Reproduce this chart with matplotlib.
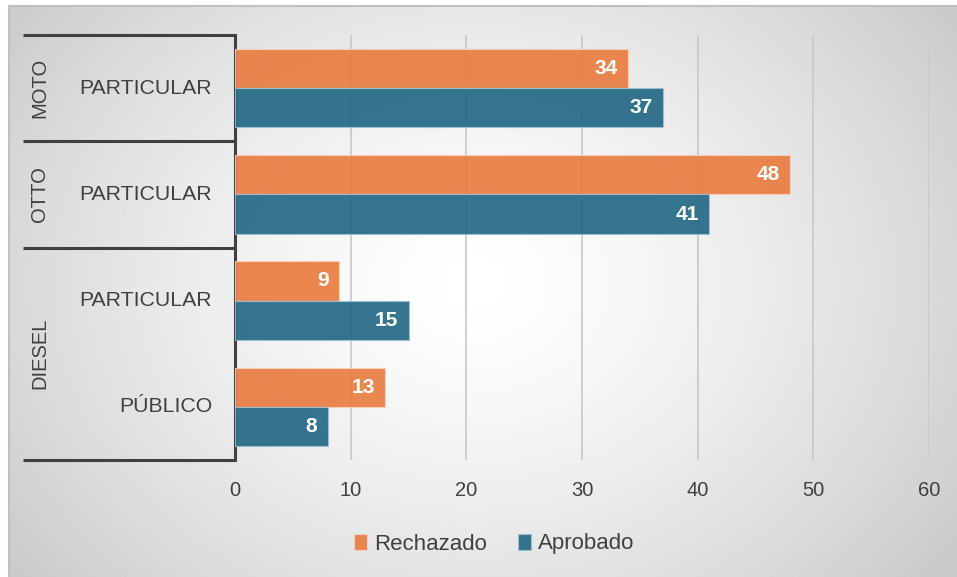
import matplotlib.pyplot as plt
import numpy as np
from matplotlib.transforms import blended_transform_factory

# data
groups = ["MOTO", "OTTO", "DIESEL"]
sub_labels = ["PARTICULAR", "PARTICULAR", "PARTICULAR", "PÚBLICO"]
group_of = [0, 1, 2, 2]
rechazado = [34, 48, 9, 13]
aprobado = [37, 41, 15, 8]

plt.rcParams['font.family'] = ['Liberation Sans', 'DejaVu Sans']

W, H = 957, 577
fig = plt.figure(figsize=(W / 100, H / 100), dpi=100)
fig.patch.set_facecolor("white")

# radial gradient background
bg = fig.add_axes([9 / W, 0, 1 - 9 / W, 1 - 6 / H], zorder=-10)
yy, xx = np.mgrid[0:300, 0:500]
cx, cy = 245, 145
r = np.sqrt(((xx - cx) / 500) ** 2 + ((yy - cy) / 300) ** 2 * 0.55)
shade = 1 - 0.21 * np.clip(r / 0.62, 0, 1) ** 1.4
bg.imshow(shade, cmap="gray", vmin=0, vmax=1, aspect="auto",
          extent=[0, 1, 0, 1], interpolation="bilinear")
bg.set_axis_off()
bg.plot([0, 0, 1], [0, 1, 1], transform=bg.transAxes, color="#c0c0c0",
        lw=1.5, clip_on=False)

ax = fig.add_axes([235 / W, 1 - 460 / H, (929 - 235) / W, (460 - 35) / H])
ax.patch.set_alpha(0)

orange = "#E97A3E"
blue = "#1F6683"
h = 0.37
y = np.arange(len(sub_labels))
b1 = ax.barh(y - h / 2, rechazado, height=h, color=orange, alpha=0.9,
             edgecolor="#f6d3be", lw=0.8, label="Rechazado", zorder=3)
b2 = ax.barh(y + h / 2, aprobado, height=h, color=blue, alpha=0.9,
             edgecolor="#9fc1d0", lw=0.8, label="Aprobado", zorder=3)

for bars, vals in [(b1, rechazado), (b2, aprobado)]:
    for bar, v in zip(bars, vals):
        ax.text(v - 0.9, bar.get_y() + bar.get_height() / 2, str(v),
                ha="right", va="center", color="white", fontsize=15,
                fontweight="bold", zorder=4)

ax.set_xlim(0, 60)
ax.set_ylim(3.5, -0.5)
ax.set_xticks(range(0, 61, 10))
ax.tick_params(axis="x", length=0, pad=15, labelsize=14.5, colors="#404040")
ax.set_yticks([])
ax.grid(axis="x", color="#c8c8c8", lw=1.2, zorder=0)
for s in ["top", "right", "bottom"]:
    ax.spines[s].set_visible(False)
ax.spines["left"].set_color("#404040")
ax.spines["left"].set_linewidth(2.2)

# multi-level category axis
tr = blended_transform_factory(ax.transAxes, ax.transData)
x0 = (23 - 235) / (929 - 235)
for yl in [-0.5, 0.5, 1.5, 3.5]:
    ax.plot([x0, 0], [yl, yl], color="#404040", lw=2.2, transform=tr,
            clip_on=False, solid_capstyle="butt")
for i, lab in enumerate(sub_labels):
    ax.text(-0.033, i, lab, transform=tr, ha="right", va="center",
            fontsize=15.3, color="#404040")
for g, name in enumerate(groups):
    idx = [i for i, k in enumerate(group_of) if k == g]
    ax.text((40 - 235) / (929 - 235), np.mean(idx), name, transform=tr,
            rotation=90, ha="center", va="center", fontsize=14.5, color="#404040")

ax.legend(loc="center", bbox_to_anchor=(494 / W, 1 - 544 / H),
          bbox_transform=fig.transFigure, ncol=2, frameon=False,
          fontsize=16, handlelength=0.6, handleheight=0.7,
          handletextpad=0.3, columnspacing=1.4, labelcolor="#404040")

fig.savefig("out.png", dpi=100)
